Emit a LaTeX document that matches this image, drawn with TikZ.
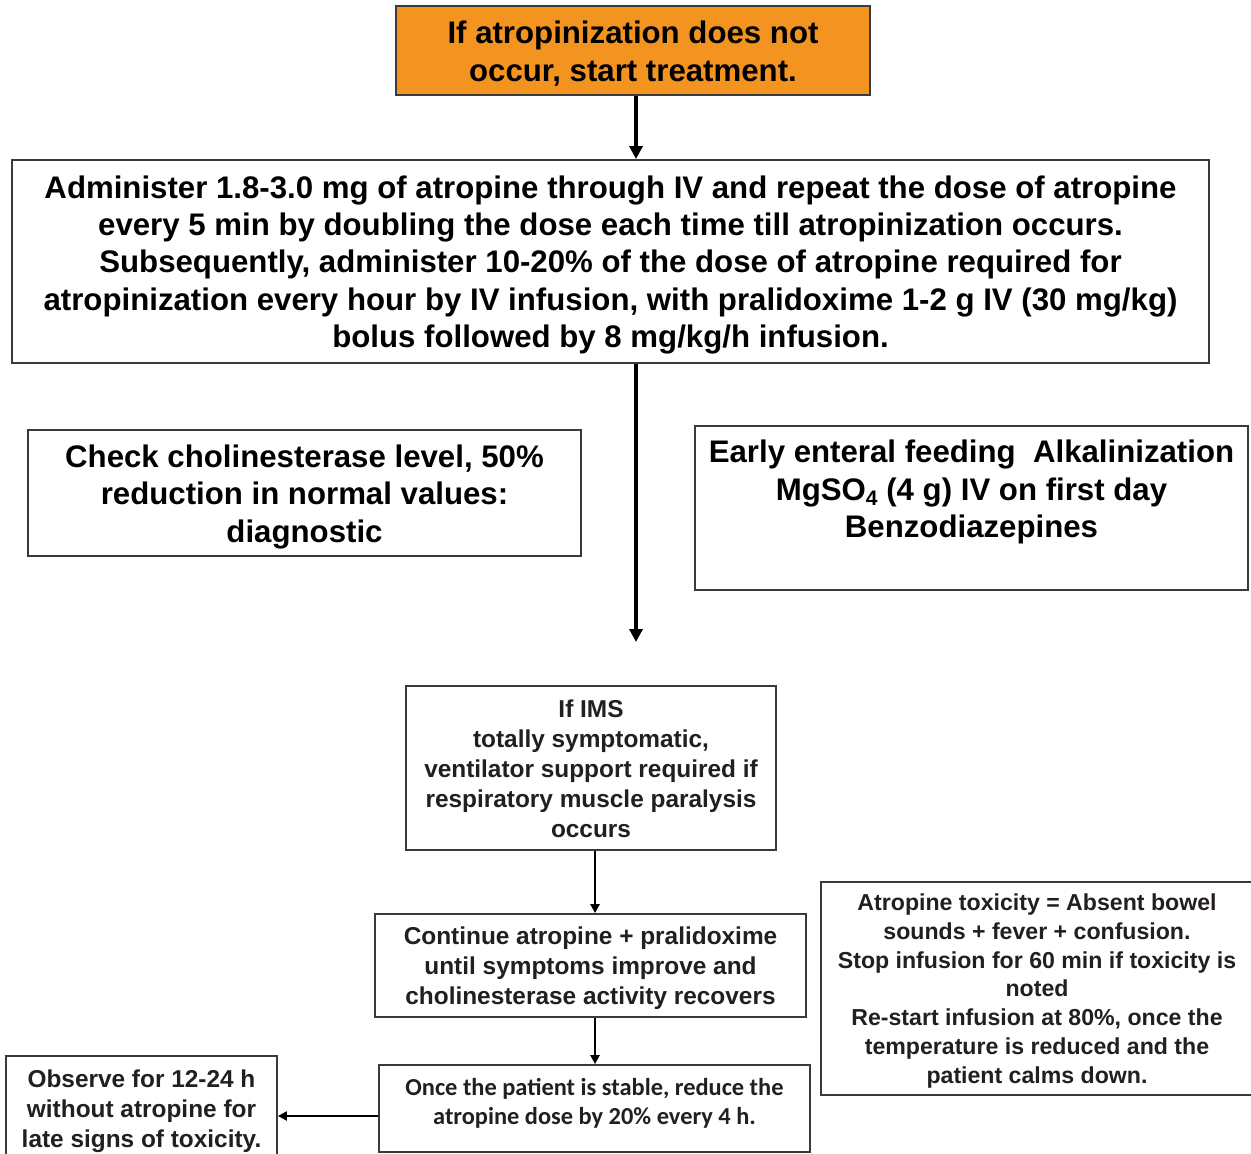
\documentclass[tikz,border=0pt]{standalone}
\usepackage{fontspec}
\setmainfont{Liberation Sans}
\newfontfamily\calib{Carlito}
\usetikzlibrary{arrows.meta}
\definecolor{orangefill}{HTML}{F39421}
\definecolor{txtgrey}{HTML}{231F20}
\definecolor{linegrey}{HTML}{3A3A3A}
\tikzset{
  box/.style={draw=linegrey, line width=0.9pt, inner sep=0pt},
  txt/.style={inner sep=0pt, align=center},
  bigtext/.style={txt, font=\bfseries\fontsize{15.6}{18.7}\selectfont},
  smalltext/.style={txt, text=txtgrey, font=\bfseries\fontsize{12.2}{15}\selectfont},
  thickarrow/.style={line width=1.8pt, -{Triangle[length=6.5pt,width=6.5pt]}},
  thinarrow/.style={line width=1.1pt, -{Triangle[length=4.5pt,width=4.5pt]}},
}
\begin{document}
\begin{tikzpicture}[x=0.5pt,y=-0.5pt]
\clip (0,0) rectangle (1251,1154);
\fill[white] (0,0) rectangle (1251,1154);
% top orange
\node[box, fill=orangefill, minimum width=237pt, minimum height=44.5pt] (start) at (633,50.5) {};
\node[bigtext] (starttxt) at (633,53.5) {If atropinization does not\\occur, start treatment.};
% big box
\node[box, minimum width=598.5pt, minimum height=101.5pt] (admin) at (610.5,261.5) {};
\node[bigtext] (admintxt) at (610.5,265)
  {Administer 1.8-3.0 mg of atropine through IV and repeat the dose of atropine\\
   every 5 min by doubling the dose each time till atropinization occurs.\\
   Subsequently, administer 10-20\% of the dose of atropine required for\\
   atropinization every hour by IV infusion, with pralidoxime 1-2 g IV (30 mg/kg)\\
   bolus followed by 8 mg/kg/h infusion.};
\draw[thickarrow] (start.south -| 636,0) -- (admin.north -| 636,0);
\coordinate (e2) at (636,642);
\draw[thickarrow] (admin.south -| 636,0) -- (e2);
% left box
\node[box, minimum width=276.5pt, minimum height=63pt] (chol) at (304.5,493) {};
\node[bigtext] (choltxt) at (304.5,497)
  {Check cholinesterase level, 50\%\\reduction in normal values:\\diagnostic};
% right box
\node[box, minimum width=276.5pt, minimum height=82pt] (early) at (971.5,508) {};
\node[bigtext] (earlytxt) at (971.5,492)
  {Early enteral feeding\ \ Alkalinization\\
   MgSO\raisebox{-0.35ex}{\fontsize{10.5}{10.5}\selectfont 4} (4 g) IV on first day\\
   Benzodiazepines};
% IMS box
\node[box, minimum width=185pt, minimum height=82pt] (ims) at (591,768) {};
\node[smalltext] (imstxt) at (591,768.5)
  {If IMS\\totally symptomatic,\\ventilator support required if\\respiratory muscle paralysis\\occurs};
% continue box
\node[box, minimum width=215.5pt, minimum height=51.5pt] (cont) at (590.5,965.5) {};
\node[smalltext] (conttxt) at (590.5,968.5)
  {Continue atropine + pralidoxime\\until symptoms improve and\\cholinesterase activity recovers};
% once box
\node[box, minimum width=215.5pt, minimum height=43.5pt] (once) at (594.5,1108.5) {};
\node[txt, text=txtgrey, font=\calib\bfseries\fontsize{12.2}{14.5}\selectfont] (oncetxt) at (594.5,1103.5)
  {Once the patient is stable, reduce the\\atropine dose by 20\% every 4 h.};
% observe box
\node[box, minimum width=135.5pt, minimum height=52pt] (obs) at (141.5,1108) {};
\node[smalltext] (obstxt) at (141.5,1111)
  {Observe for 12-24 h\\without atropine for\\late signs of toxicity.};
% atropine toxicity box
\node[box, minimum width=216pt, minimum height=106.5pt] (tox) at (1037,988.5) {};
\node[txt, text=txtgrey, font=\bfseries\fontsize{11.56}{14.35}\selectfont] (toxtxt) at (1037,991)
  {Atropine toxicity = Absent bowel\\sounds + fever + confusion.\\Stop infusion for 60 min if toxicity is\\noted\\Re-start infusion at 80\%, once the\\temperature is reduced and the\\patient calms down.};
% lower arrows
\draw[thinarrow] (ims.south -| 595,0) -- (cont.north -| 595,0);
\draw[thinarrow] (cont.south -| 595,0) -- (once.north -| 595,0);
\draw[thinarrow] (once.west |- 0,1116) -- (obs.east |- 0,1116);
\end{tikzpicture}
\end{document}
